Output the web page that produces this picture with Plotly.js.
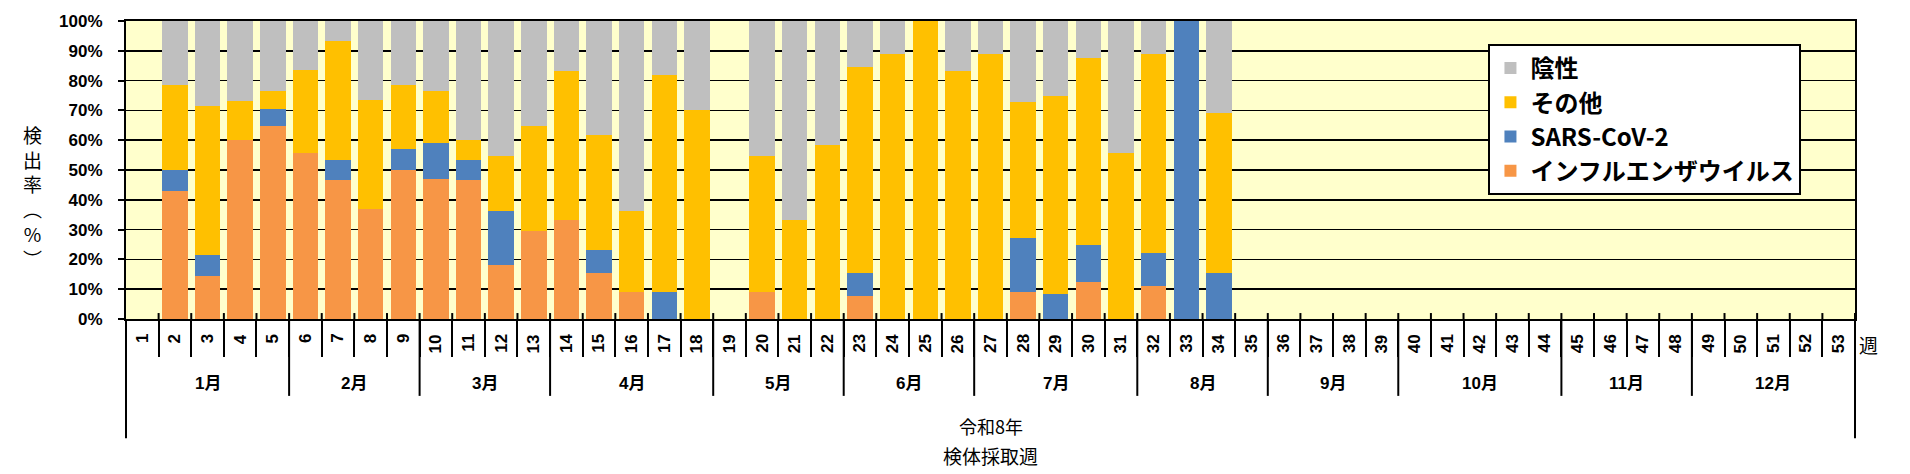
<!DOCTYPE html>
<html>
<head>
<meta charset="utf-8">
<script src="https://cdn.plot.ly/plotly-3.0.1.min.js"></script>
<style>
  html, body { margin: 0; padding: 0; background: #fff; }
  #myDiv { width: 1910px; height: 474px; }
</style>
</head>
<body>
<div id="myDiv"></div>
<script>
// weeks 1..53, values in % (null = no samples)
var weeks = [];
for (let i = 1; i <= 53; i++) weeks.push(String(i));

var fluPct = [null, 42.9, 14.3, 60, 64.7, 55.6, 46.7, 36.8, 50, 47.1, 46.7, 18.2, 29.4, 33.3, 15.4, 9.1, 0, 0,
  null, 9.1, 0, 0, 7.7, 0, 0, 0, 0, 9.1, 0, 12.5, 0, 11.1, 0, 0];
var sarsPct = [null, 7.1, 7.1, 0, 5.9, 0, 6.7, 0, 7.1, 11.8, 6.7, 18.2, 0, 0, 7.7, 0, 9.1, 0,
  null, 0, 0, 0, 7.7, 0, 0, 0, 0, 18.2, 8.3, 12.5, 0, 11.1, 100, 15.4];
var otherPct = [null, 28.6, 50, 13.3, 5.9, 27.8, 40, 36.8, 21.4, 17.6, 6.7, 18.2, 35.3, 50, 38.5, 27.3, 72.7, 70,
  null, 45.5, 33.3, 58.3, 69.2, 88.9, 100, 83.3, 88.9, 45.5, 66.7, 62.5, 55.6, 66.7, 0, 53.8];
var negPct = [null, 21.4, 28.6, 26.7, 23.5, 16.7, 6.7, 26.3, 21.4, 23.5, 40, 45.5, 35.3, 16.7, 38.5, 63.6, 18.2, 30,
  null, 45.5, 66.7, 41.7, 15.4, 11.1, 0, 16.7, 11.1, 27.3, 25, 12.5, 44.4, 11.1, 0, 30.8];

var seriesNames = ['インフルエンザウイルス', 'SARS-CoV-2', 'その他', '陰性'];
var seriesColors = ['#F79646', '#4F81BD', '#FFC000', '#BFBFBF'];

var months = ['1月', '2月', '3月', '4月', '5月', '6月', '7月', '8月', '9月', '10月', '11月', '12月'];
var monthFirstWeek = [1, 6, 10, 14, 19, 23, 27, 32, 36, 40, 45, 49];
var monthLastWeek = [5, 9, 13, 18, 22, 26, 31, 35, 39, 44, 48, 53];

function pad(arr) {
  var out = arr.slice();
  while (out.length < weeks.length) out.push(null);
  return out;
}

var data = [];
[fluPct, sarsPct, otherPct, negPct].forEach(function (vals, k) {
  data.push({
    type: 'bar',
    x: weeks,
    y: pad(vals),
    name: seriesNames[k],
    legendrank: 4 - k,
    marker: { color: seriesColors[k], line: { width: 0 } },
    hoverinfo: 'x+y+name'
  });
});

var numFont = 'Liberation Sans, Arial, Noto Sans CJK JP, sans-serif';
var jpFont = 'Noto Sans CJK JP, sans-serif';

var shapes = [];
var annotations = [];

// week numbers, rotated, inside the tick row
weeks.forEach(function (w, i) {
  annotations.push({
    xref: 'x', yref: 'paper',
    x: i, y: -0.044, yanchor: 'top', xanchor: 'center',
    text: w, textangle: -90, showarrow: false,
    font: { family: numFont, size: 17, color: '#000', weight: 'bold' }
  });
  // little part of the cross tick above the axis
  shapes.push({
    type: 'line', xref: 'x', yref: 'paper',
    x0: i + 0.5, x1: i + 0.5, y0: 0, y1: 0.02,
    line: { color: '#000', width: 2 }
  });
});

// month dividers below the axis
for (let m = 0; m < months.length - 1; m++) {
  shapes.push({
    type: 'line', xref: 'x', yref: 'paper',
    x0: monthLastWeek[m] - 0.5, x1: monthLastWeek[m] - 0.5,
    y0: 0, y1: -0.258,
    line: { color: '#000', width: 2 }
  });
}
// outer verticals down to the year row
[0, 1].forEach(function (px) {
  shapes.push({
    type: 'line', xref: 'paper', yref: 'paper',
    x0: px, x1: px, y0: 0, y1: -0.40,
    line: { color: '#000', width: 2 }
  });
});

months.forEach(function (m, i) {
  annotations.push({
    xref: 'x', yref: 'paper',
    x: (monthFirstWeek[i] + monthLastWeek[i]) / 2 - 1,
    y: -0.215, yanchor: 'middle',
    text: m, showarrow: false,
    font: { family: numFont, size: 17, color: '#000', weight: 'bold' }
  });
});

annotations.push({
  xref: 'paper', yref: 'paper', x: 0.5, y: -0.36, yanchor: 'middle',
  text: '令和8年', showarrow: false,
  font: { family: jpFont, size: 18, color: '#000' }
});
annotations.push({
  xref: 'paper', yref: 'paper', x: 0.5, y: -0.458, yanchor: 'middle',
  text: '検体採取週', showarrow: false,
  font: { family: jpFont, size: 19, color: '#000' }
});
annotations.push({
  xref: 'paper', yref: 'paper', x: 1.0145, y: -0.087, yanchor: 'middle',
  text: '週', showarrow: false,
  font: { family: jpFont, size: 19, color: '#000' }
});
// vertical y title
annotations.push({
  xref: 'paper', yref: 'paper', x: -0.061, y: 0.41, yanchor: 'middle',
  text: '検<br>出<br>率<br>︵<br>%<br>︶', showarrow: false,
  font: { family: jpFont, size: 19, color: '#000' }
});

var layout = {
  width: 1910,
  height: 474,
  margin: { l: 126, r: 55, t: 21, b: 155 },
  paper_bgcolor: '#ffffff',
  plot_bgcolor: '#FFFFCC',
  barmode: 'stack',
  bargap: 0.22,
  showlegend: true,
  legend: {
    x: 0.788, y: 0.923, xanchor: 'left', yanchor: 'top',
    bgcolor: '#ffffff', bordercolor: '#000', borderwidth: 2,
    traceorder: 'normal',
    font: { family: jpFont, size: 24, color: '#000', weight: 'bold' }
  },
  xaxis: {
    type: 'category',
    categoryorder: 'array',
    categoryarray: weeks,
    range: [-0.5, 52.5],
    tickson: 'boundaries',
    ticks: 'outside',
    ticklen: 36,
    tickwidth: 2,
    tickcolor: '#000',
    showticklabels: false,
    showgrid: false,
    showline: true,
    linecolor: '#000',
    linewidth: 2,
    mirror: true,
    fixedrange: true
  },
  yaxis: {
    range: [0, 100],
    dtick: 10,
    ticksuffix: '%',
    ticks: 'outside',
    ticklen: 6,
    tickwidth: 2,
    tickcolor: '#000',
    ticklabelstandoff: 12,
    tickfont: { family: numFont, size: 17, color: '#000', weight: 'bold' },
    showgrid: true,
    gridcolor: '#000',
    gridwidth: 1.5,
    showline: true,
    linecolor: '#000',
    linewidth: 2,
    mirror: true,
    zeroline: false,
    fixedrange: true
  },
  shapes: shapes,
  annotations: annotations
};

Plotly.newPlot('myDiv', data, layout, { displayModeBar: false, staticPlot: true });
</script>
</body>
</html>
